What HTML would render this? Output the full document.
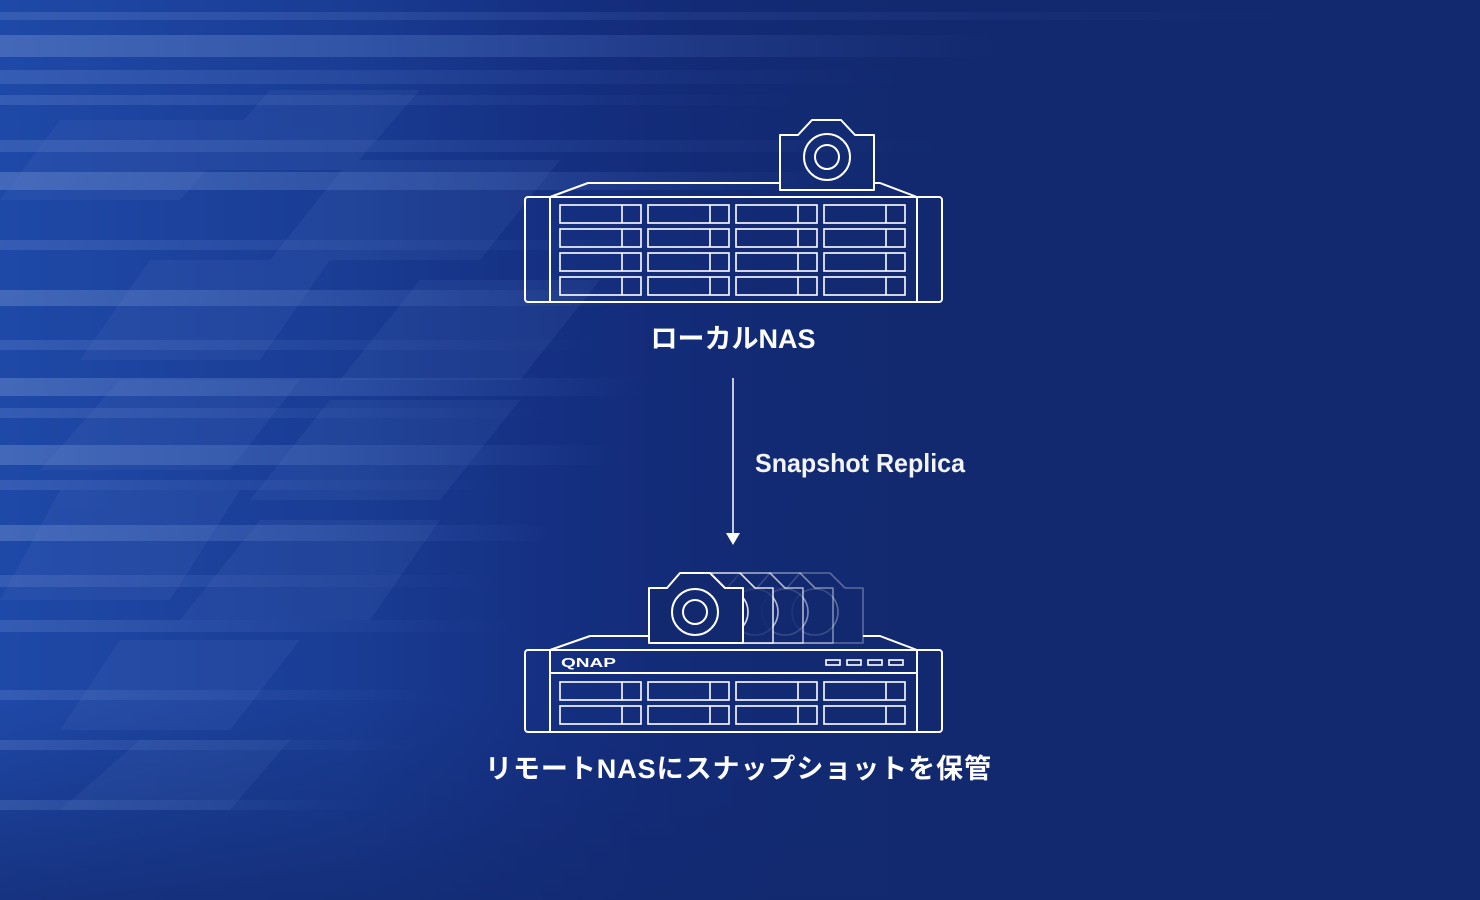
<!DOCTYPE html>
<html><head><meta charset="utf-8"><style>
html,body{margin:0;padding:0;width:1480px;height:900px;overflow:hidden;background:#12296f}
svg{display:block}
</style></head><body>
<svg width="1480" height="900" viewBox="0 0 1480 900" xmlns="http://www.w3.org/2000/svg">
<defs>
<linearGradient id="bgL" x1="0" y1="0" x2="1" y2="0">
<stop offset="0" stop-color="#1f49a8" stop-opacity="1"/>
<stop offset="0.35" stop-color="#1c43a0" stop-opacity="0.75"/>
<stop offset="0.65" stop-color="#17359a" stop-opacity="0.25"/>
<stop offset="1" stop-color="#12296f" stop-opacity="0"/>
</linearGradient>
<linearGradient id="bgB" x1="0" y1="0" x2="0" y2="1">
<stop offset="0" stop-color="#12296f" stop-opacity="0"/>
<stop offset="1" stop-color="#12296f" stop-opacity="0.7"/>
</linearGradient>
<linearGradient id="st" x1="0" y1="0" x2="1" y2="0">
<stop offset="0" stop-color="#6f8fd0" stop-opacity="0.45"/>
<stop offset="0.5" stop-color="#5a7cc8" stop-opacity="0.3"/>
<stop offset="1" stop-color="#4a6cc0" stop-opacity="0"/>
</linearGradient>
<linearGradient id="st2" x1="0" y1="0" x2="1" y2="0">
<stop offset="0" stop-color="#6a8ad0" stop-opacity="0.3"/>
<stop offset="1" stop-color="#4a6cc0" stop-opacity="0"/>
</linearGradient>
</defs>
<rect width="1480" height="900" fill="#12296f"/>
<rect width="1000" height="900" fill="url(#bgL)"/>
<rect y="700" width="1480" height="200" fill="url(#bgB)"/>
<rect x="0" y="12" width="1300" height="8" fill="url(#st2)"/>
<rect x="0" y="35" width="1000" height="22" fill="url(#st)"/>
<rect x="0" y="70" width="900" height="14" fill="url(#st2)"/>
<rect x="0" y="95" width="800" height="10" fill="url(#st2)"/>
<rect x="0" y="140" width="950" height="12" fill="url(#st2)"/>
<rect x="0" y="172" width="850" height="18" fill="url(#st)"/>
<rect x="0" y="240" width="700" height="10" fill="url(#st2)"/>
<rect x="0" y="290" width="650" height="16" fill="url(#st)"/>
<rect x="0" y="340" width="600" height="10" fill="url(#st2)"/>
<rect x="0" y="378" width="650" height="18" fill="url(#st)"/>
<rect x="0" y="408" width="550" height="10" fill="url(#st2)"/>
<rect x="0" y="445" width="620" height="20" fill="url(#st)"/>
<rect x="0" y="480" width="500" height="10" fill="url(#st2)"/>
<rect x="0" y="525" width="560" height="16" fill="url(#st)"/>
<rect x="0" y="575" width="500" height="12" fill="url(#st2)"/>
<rect x="0" y="620" width="520" height="12" fill="url(#st2)"/>
<rect x="0" y="690" width="450" height="10" fill="url(#st2)"/>
<rect x="0" y="740" width="420" height="10" fill="url(#st2)"/>
<rect x="0" y="800" width="380" height="10" fill="url(#st2)"/>
<g fill="#6a8ad0" opacity="0.1">
<polygon points="60,120 250,120 180,200 0,200"/>
<polygon points="270,90 420,90 350,170 200,170"/>
<polygon points="350,160 560,160 480,260 270,260"/>
<polygon points="150,260 330,260 260,360 80,360"/>
<polygon points="420,280 600,280 520,380 340,380"/>
<polygon points="120,380 300,380 230,470 40,470"/>
<polygon points="330,400 520,400 440,500 250,500"/>
<polygon points="60,490 240,490 170,600 0,600"/>
<polygon points="260,520 440,520 370,620 180,620"/>
<polygon points="120,640 300,640 230,730 60,730"/>
<polygon points="140,740 290,740 230,810 60,810"/>
</g>
<g fill="none" stroke="#fff" stroke-width="2" stroke-linejoin="round">
<rect x="525" y="197" width="417" height="105" rx="3"/>
<line x1="550" y1="197" x2="550" y2="302"/>
<line x1="917" y1="197" x2="917" y2="302"/>
<polyline points="550,197 588,183 780,183"/>
<polyline points="874,183 880,183 917,197"/>
<path d="M780,135 L798,135 L812,120 L841,120 L855,135 L874,135 L874,190 L780,190 Z"/>
<circle cx="827" cy="157" r="23"/>
<circle cx="827" cy="157" r="12"/>
</g>
<g fill="none" stroke="#fff" stroke-width="1.6">
<g id="bay"><rect x="560" y="205" width="81" height="18"/><line x1="622" y1="205" x2="622" y2="223"/></g>
<use href="#bay" x="88"/><use href="#bay" x="176"/><use href="#bay" x="264"/>
<g id="brow2"><use href="#bay" y="24"/><use href="#bay" x="88" y="24"/><use href="#bay" x="176" y="24"/><use href="#bay" x="264" y="24"/></g>
<use href="#brow2" y="24"/><use href="#brow2" y="48"/>
</g>
<text x="733" y="348" text-anchor="middle" fill="#fff" font-family="'Liberation Sans','Noto Sans CJK JP',sans-serif" font-weight="bold" font-size="27">ローカルNAS</text>
<line x1="733" y1="378" x2="733" y2="534" stroke="#fff" stroke-width="1.5"/>
<polygon points="726,533 740,533 733,545" fill="#fff"/>
<text x="755" y="472" fill="#fff" font-family="'Liberation Sans',sans-serif" font-size="26" font-weight="bold" opacity="0.95" textLength="210" lengthAdjust="spacingAndGlyphs">Snapshot Replica</text>
<g fill="#12296f" stroke="#fff" stroke-width="1.6" stroke-linejoin="round">
<g opacity="0.3" transform="translate(120,0)"><path d="M649,588 L667,588 L680,573 L710,573 L725,588 L743,588 L743,643 L649,643 Z"/><circle cx="695" cy="612" r="23"/></g>
<g opacity="0.45" transform="translate(90,0)"><path d="M649,588 L667,588 L680,573 L710,573 L725,588 L743,588 L743,643 L649,643 Z"/><circle cx="695" cy="612" r="23"/></g>
<g opacity="0.65" transform="translate(60,0)"><path d="M649,588 L667,588 L680,573 L710,573 L725,588 L743,588 L743,643 L649,643 Z"/><circle cx="695" cy="612" r="23"/></g>
<g opacity="0.85" transform="translate(30,0)"><path d="M649,588 L667,588 L680,573 L710,573 L725,588 L743,588 L743,643 L649,643 Z"/><circle cx="695" cy="612" r="23"/></g>
<g stroke-width="2"><path d="M649,588 L667,588 L680,573 L710,573 L725,588 L743,588 L743,643 L649,643 Z"/><circle cx="695" cy="612" r="23" fill="none"/><circle cx="695" cy="612" r="12" fill="none"/></g>
</g>
<g fill="none" stroke="#fff" stroke-width="2" stroke-linejoin="round">
<rect x="525" y="650" width="417" height="82" rx="3"/>
<line x1="550" y1="650" x2="550" y2="732"/>
<line x1="917" y1="650" x2="917" y2="732"/>
<line x1="550" y1="673" x2="917" y2="673"/>
<polyline points="550,650 590,636 649,636"/>
<polyline points="863,636 880,636 917,650"/>
</g>
<g fill="none" stroke="#fff" stroke-width="1.6">
<rect x="826" y="660" width="14" height="5"/><rect x="847" y="660" width="14" height="5"/><rect x="868" y="660" width="14" height="5"/><rect x="889" y="660" width="14" height="5"/>
<g id="bb"><rect x="560" y="682" width="81" height="18"/><line x1="622" y1="682" x2="622" y2="700"/></g>
<use href="#bb" x="88"/><use href="#bb" x="176"/><use href="#bb" x="264"/>
<use href="#bb" y="24"/><use href="#bb" x="88" y="24"/><use href="#bb" x="176" y="24"/><use href="#bb" x="264" y="24"/>
</g>
<text x="561" y="667" fill="#fff" font-family="'Liberation Sans',sans-serif" font-weight="bold" font-size="13" textLength="55" lengthAdjust="spacingAndGlyphs">QNAP</text>
<text x="738" y="778" text-anchor="middle" fill="#fff" font-family="'Liberation Sans','Noto Sans CJK JP',sans-serif" font-weight="bold" font-size="27" textLength="506">リモートNASにスナップショットを保管</text>
</svg>
</body></html>
